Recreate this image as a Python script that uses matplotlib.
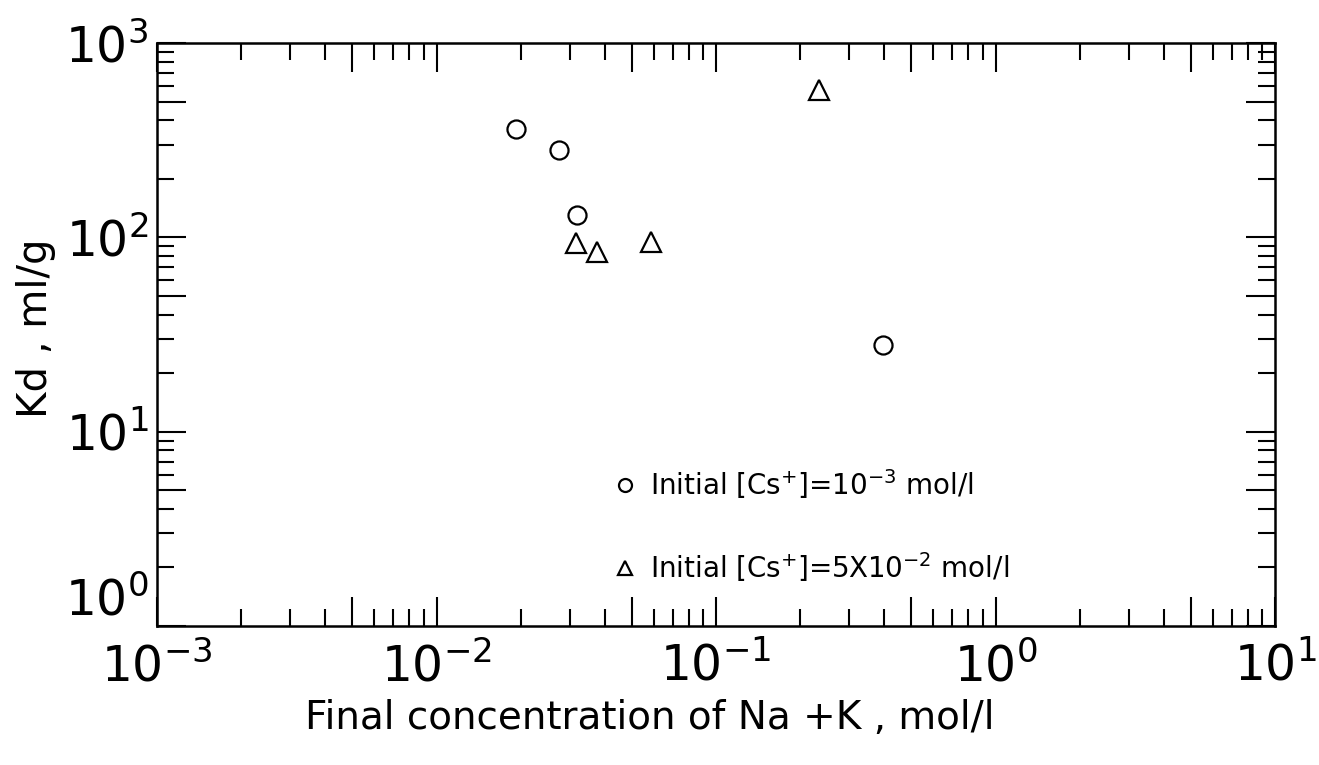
import matplotlib
matplotlib.use("Agg")
import matplotlib.pyplot as plt
from matplotlib.ticker import LogLocator, LogFormatterSciNotation, NullFormatter

# Data
circle_x = [0.0192, 0.0274, 0.0319, 0.395]
circle_y = [361, 282, 130, 27.9]
tri_x = [0.233, 0.0315, 0.0375, 0.0584]
tri_y = [574, 93.6, 84, 94.7]

circle_label = r"Initial [Cs$^{+}$]=10$^{-3}$ mol/l"
tri_label = r"Initial [Cs$^{+}$]=5X10$^{-2}$ mol/l"
xlabel = "Final concentration of Na +K , mol/l"
ylabel = "Kd , ml/g"

plt.rcParams['font.family'] = ['DejaVu Sans']
plt.rcParams['mathtext.fontset'] = 'dejavusans'

fig = plt.figure(figsize=(13.19, 7.65), dpi=100)
ax = fig.add_axes([157/1319, 1-626/765, (1275-157)/1319, (626-43)/765])

ax.plot(circle_x, circle_y, linestyle='none', marker='o', markersize=13,
        markerfacecolor='none', markeredgecolor='black', markeredgewidth=1.6,
        label=circle_label)
ax.plot(tri_x, tri_y, linestyle='none', marker='^', markersize=14,
        markerfacecolor='none', markeredgecolor='black', markeredgewidth=1.6,
        label=tri_label)

ax.set_xscale('log')
ax.set_yscale('log')
ax.set_xlim(1e-3, 1e1)
ax.set_ylim(1e0, 1e3)

for axis in (ax.xaxis, ax.yaxis):
    axis.set_major_locator(LogLocator(base=10, subs=(1.0, 5.0)))
    axis.set_major_formatter(LogFormatterSciNotation(labelOnlyBase=True))
    axis.set_minor_locator(LogLocator(base=10, subs=(2, 3, 4, 6, 7, 8, 9)))
    axis.set_minor_formatter(NullFormatter())

ax.tick_params(which='both', direction='in', top=True, right=True, color='black')
ax.tick_params(which='major', length=21, width=1.5, labelsize=35)
ax.tick_params(axis='x', which='major', pad=12)
ax.tick_params(axis='y', which='major', pad=6)
ax.tick_params(which='minor', length=12, width=1.5)

for s in ax.spines.values():
    s.set_linewidth(1.8)

ax.set_xlabel(xlabel, fontsize=28)
ax.xaxis.set_label_coords(0.441, -0.125)
ax.set_ylabel(ylabel, fontsize=29)
ax.yaxis.set_label_coords(-0.09, 0.51)

leg = ax.legend(loc='lower left', bbox_to_anchor=(0.386, 0.03), frameon=False,
                fontsize=20, markerscale=0.72, handlelength=0.8, handletextpad=0.5,
                labelspacing=1.75, numpoints=1)

fig.canvas.draw()
for t in ax.yaxis.get_major_ticks():
    if abs(t.get_loc() - 1.0) < 1e-9:
        t.label1.set_va('bottom')

fig.savefig("out.png", dpi=100)
